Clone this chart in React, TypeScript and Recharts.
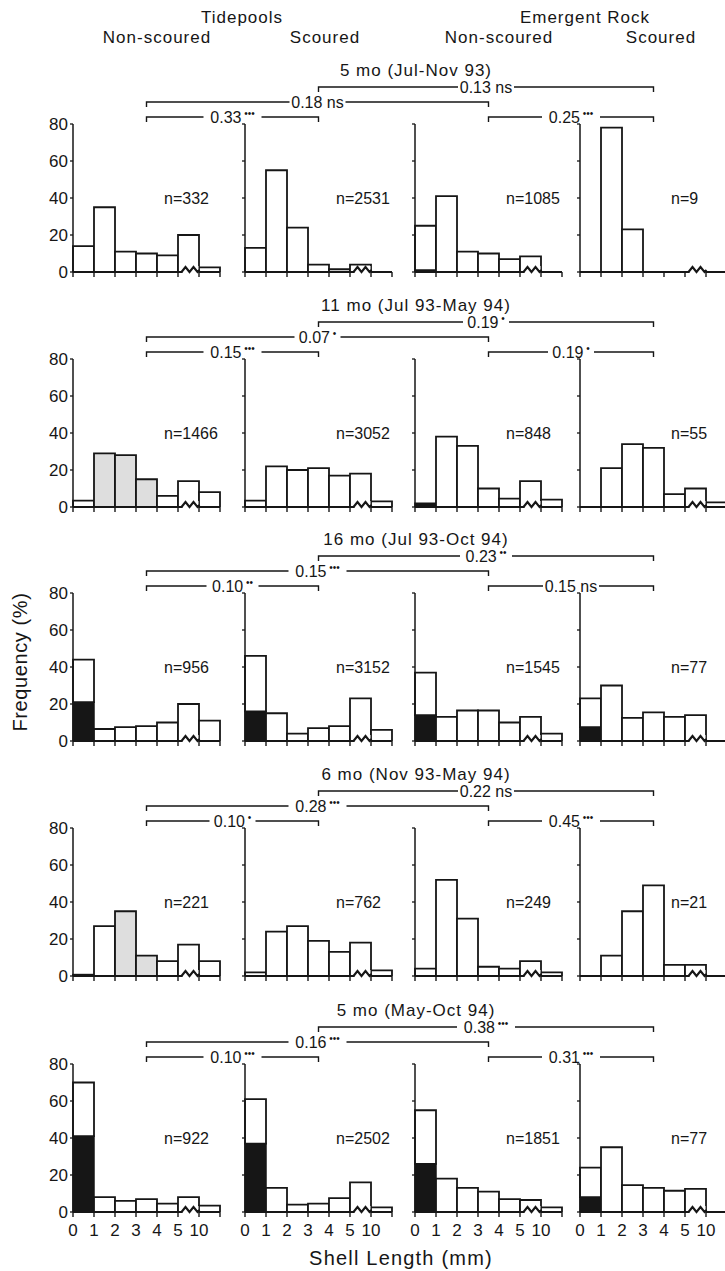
import React from 'react';
import { BarChart, Bar, XAxis, YAxis, Cell, ReferenceDot } from 'recharts';

// size classes (mm) and the labels printed at the bin edges
const sizeBins = ['0-1', '1-2', '2-3', '3-4', '4-5', '5-10', '>10'];
const edgeLabels = ['0', '1', '2', '3', '4', '5', '10'];
const yTicks = [0, 20, 40, 60, 80];

const periods = ['5 mo (Jul-Nov 93)', '11 mo (Jul 93-May 94)', '16 mo (Jul 93-Oct 94)', '6 mo (Nov 93-May 94)', '5 mo (May-Oct 94)'];
const treatments = ['Non-scoured', 'Scoured', 'Non-scoured', 'Scoured'];

const sampleSizes = [
  [332, 2531, 1085, 9],
  [1466, 3052, 848, 55],
  [956, 3152, 1545, 77],
  [221, 762, 249, 21],
  [922, 2502, 1851, 77],
];

// frequency (%) per size class, one array per panel
const freqJulNov93 = [
  [14, 35, 11, 10, 9, 20, 2.5],
  [13, 55, 24, 4, 1.5, 4, 0],
  [25, 41, 11, 10, 7, 8.5, 0],
  [0, 78, 23, 0, 0, 0, 0],
];
const freqJul93May94 = [
  [3.5, 29, 28, 15, 6, 14, 8],
  [3.5, 22, 20, 21, 17, 18, 3],
  [2, 38, 33, 10, 4.5, 14, 4],
  [0, 21, 34, 32, 7, 10, 2.5],
];
const freqJul93Oct94 = [
  [44, 6.5, 7.5, 8, 10, 20, 11],
  [46, 15, 4, 7, 8, 23, 6],
  [37, 13, 16.5, 16.5, 10, 13, 4],
  [23, 30, 12.5, 15.5, 13, 14, 0],
];
const freqNov93May94 = [
  [0.7, 27, 35, 11, 8, 17, 8],
  [2, 24, 27, 19, 13, 18, 3],
  [4, 52, 31, 5, 4, 8, 2],
  [0, 11, 35, 49, 6, 6, 0],
];
const freqMayOct94 = [
  [70, 8, 6, 7, 4.5, 8, 3.5],
  [61, 13, 4, 4.5, 7.5, 16, 2.5],
  [55, 18, 13, 11, 7, 6.5, 2.5],
  [24, 35, 14.5, 13, 11.5, 12.5, 0],
];
const freqByPeriod = [freqJulNov93, freqJul93May94, freqJul93Oct94, freqNov93May94, freqMayOct94];

// black part of the first size class (new recruits)
const recruits = [
  [0, 0, 1, 0],
  [0, 0, 2, 0],
  [21, 16, 14, 7.5],
  [0, 0, 0, 0],
  [41, 37, 26, 8],
];
// shaded (stippled) bins
const stippled = [
  [[], [], [], []],
  [[1, 2, 3], [], [], []],
  [[], [], [], []],
  [[2, 3], [], [], []],
  [[], [], [], []],
];

// comparison brackets: tidepools (cols 1-2), rock (cols 3-4), non-scoured (1-3), scoured (2-4)
const pTide = ['0.33', '0.15', '0.10', '0.10', '0.10'];
const sigTide = ['•••', '•••', '••', '•', '•••'];
const pRock = ['0.25', '0.19', '0.15', '0.45', '0.31'];
const sigRock = ['•••', '•', 'ns', '•••', '•••'];
const pNonScoured = ['0.18', '0.07', '0.15', '0.28', '0.16'];
const sigNonScoured = ['ns', '•', '•••', '•••', '•••'];
const pScoured = ['0.13', '0.19', '0.23', '0.22', '0.38'];
const sigScoured = ['ns', '•', '••', 'ns', '•••'];

const FONT = '"Liberation Sans", Arial, Helvetica, sans-serif';
const INK = '#161616';
const colX = [73, 245, 415, 580];
const rowTop = [124, 359, 593, 828, 1064];
const PLOT_W = 147;
const PLOT_H = 148;
const BIN_W = PLOT_W / sizeBins.length;
const Y_W = 40;
const PAD_T = 14;
const PAD_R = 8;
const X_H = 32;

function EdgeTick(props: any) {
  const { x, y, index, showLabel } = props;
  const left = x - BIN_W / 2;
  const last = index === sizeBins.length - 1;
  return (
    <g>
      <line x1={left} y1={y} x2={left} y2={y + 5} stroke={INK} strokeWidth={1.4} />
      {last && <line x1={x + BIN_W / 2} y1={y} x2={x + BIN_W / 2} y2={y + 5} stroke={INK} strokeWidth={1.4} />}
      {showLabel && (
        <text x={left} y={y + 24} textAnchor="middle" fontSize={17} fontFamily={FONT} fill={INK}>
          {edgeLabels[index]}
        </text>
      )}
    </g>
  );
}

function LevelTick(props: any) {
  const { x, y, payload, showLabel } = props;
  return (
    <g>
      <line x1={x - 3} y1={y} x2={x} y2={y} stroke={INK} strokeWidth={1.3} />
      {showLabel && (
        <text x={x - 5} y={y + 6} textAnchor="end" fontSize={17} fontFamily={FONT} fill={INK}>
          {payload.value}
        </text>
      )}
    </g>
  );
}

// axis-break symbol drawn on the 5-10 mm class
function BreakMark(props: any) {
  const { cx, cy } = props;
  const x = cx + 2;
  return (
    <g>
      <rect x={x - 8} y={cy - 6} width={16} height={7} fill="#fff" />
      <path d={`M${x - 9},${cy} l4,-5 l4,5 l4,-5 l4,5 l2,-2`} stroke={INK} strokeWidth={2.1} fill="none" />
    </g>
  );
}

function Panel({ row, col }: { row: number; col: number }) {
  const freq = freqByPeriod[row][col];
  const shade = stippled[row][col];
  const data = freq.map((total, i) => {
    const black = i === 0 ? recruits[row][col] : 0;
    return { bin: sizeBins[i], recruits: black, rest: Math.max(total - black, 0) };
  });
  const firstCol = col === 0;
  const lastRow = row === 4;
  return (
    <div style={{ position: 'absolute', left: colX[col] - Y_W, top: rowTop[row] - PAD_T }}>
      <BarChart
        width={Y_W + PLOT_W + PAD_R}
        height={PAD_T + PLOT_H + X_H}
        data={data}
        margin={{ top: PAD_T, right: PAD_R, bottom: 0, left: 0 }}
        barCategoryGap={0}
        barGap={0}
      >
        <XAxis
          dataKey="bin"
          interval={0}
          height={X_H}
          tickSize={0}
          tickMargin={0}
          tickLine={false}
          tick={(p: any) => <EdgeTick {...p} showLabel={lastRow} />}
          axisLine={{ stroke: INK, strokeWidth: 2 }}
        />
        <YAxis
          domain={[0, 80]}
          ticks={yTicks}
          interval={0}
          width={Y_W}
          tickSize={0}
          tickMargin={0}
          tickLine={false}
          tick={(p: any) => <LevelTick {...p} showLabel={firstCol} />}
          axisLine={{ stroke: INK, strokeWidth: 1.5 }}
          allowDataOverflow
        />
        <Bar dataKey="recruits" stackId="s" fill={INK} stroke={INK} strokeWidth={1.5} isAnimationActive={false} />
        <Bar dataKey="rest" stackId="s" fill="#fff" stroke={INK} strokeWidth={1.8} isAnimationActive={false}>
          {data.map((d, i) => (
            <Cell key={d.bin} fill={shade.includes(i) ? '#dedede' : '#fff'} />
          ))}
        </Bar>
        <ReferenceDot x="5-10" y={0} r={0} shape={BreakMark} ifOverflow="visible" />
      </BarChart>
    </div>
  );
}

function Bracket({ x1, x2, y, p, sig }: { x1: number; x2: number; y: number; p: string; sig: string }) {
  const cx = (x1 + x2) / 2;
  const ns = sig === 'ns';
  const w = 36 + (ns ? 20 : sig.length * 6 + 4);
  return (
    <g>
      <path d={`M${x1},${y + 5} V${y} H${x2} V${y + 5}`} fill="none" stroke={INK} strokeWidth={1.4} />
      <rect x={cx - w / 2} y={y - 7} width={w} height={13} fill="#fff" />
      <text x={cx} y={y + 6} textAnchor="middle" fontSize={16} fill={INK}>
        {p}
        {ns ? (
          <tspan> ns</tspan>
        ) : (
          <tspan fontSize={10} dy={-6}> {sig}</tspan>
        )}
      </text>
    </g>
  );
}

export default function App() {
  const centers = colX.map((x) => x + PLOT_W / 2);
  return (
    <div style={{ position: 'absolute', left: 0, top: 0, width: 725, height: 1271, overflow: 'hidden', background: '#fff', fontFamily: FONT }}>
      {periods.map((_, r) => [0, 1, 2, 3].map((c) => <Panel key={`${r}-${c}`} row={r} col={c} />))}
      <svg width={725} height={1271} style={{ position: 'absolute', left: 0, top: 0 }} fontFamily={FONT}>
        <text x={242} y={23} textAnchor="middle" fontSize={17} letterSpacing={1} fill={INK}>Tidepools</text>
        <text x={585} y={23} textAnchor="middle" fontSize={17} letterSpacing={1} fill={INK}>Emergent Rock</text>
        {treatments.map((t, i) => (
          <text key={i} x={[157, 325, 499, 661][i]} y={43} textAnchor="middle" fontSize={17} letterSpacing={1} fill={INK}>{t}</text>
        ))}
        {periods.map((title, r) => {
          const T = rowTop[r];
          return (
            <g key={title}>
              <text x={416} y={T - 48} textAnchor="middle" fontSize={17} letterSpacing={1} fill={INK}>{title}</text>
              <Bracket x1={centers[1]} x2={centers[3]} y={T - 37} p={pScoured[r]} sig={sigScoured[r]} />
              <Bracket x1={centers[0]} x2={centers[2]} y={T - 22} p={pNonScoured[r]} sig={sigNonScoured[r]} />
              <Bracket x1={centers[0]} x2={centers[1]} y={T - 7} p={pTide[r]} sig={sigTide[r]} />
              <Bracket x1={centers[2]} x2={centers[3]} y={T - 7} p={pRock[r]} sig={sigRock[r]} />
              {sampleSizes[r].map((n, c) => (
                <text key={c} x={colX[c] + 91} y={T + PLOT_H / 2 + 6} fontSize={16} fill={INK}>{`n=${n}`}</text>
              ))}
            </g>
          );
        })}
        <text transform="translate(27,662) rotate(-90)" textAnchor="middle" fontSize={20} letterSpacing={0.6} fill={INK}>Frequency (%)</text>
        <text x={401} y={1265} textAnchor="middle" fontSize={20} letterSpacing={1.2} fill={INK}>Shell Length (mm)</text>
      </svg>
    </div>
  );
}
